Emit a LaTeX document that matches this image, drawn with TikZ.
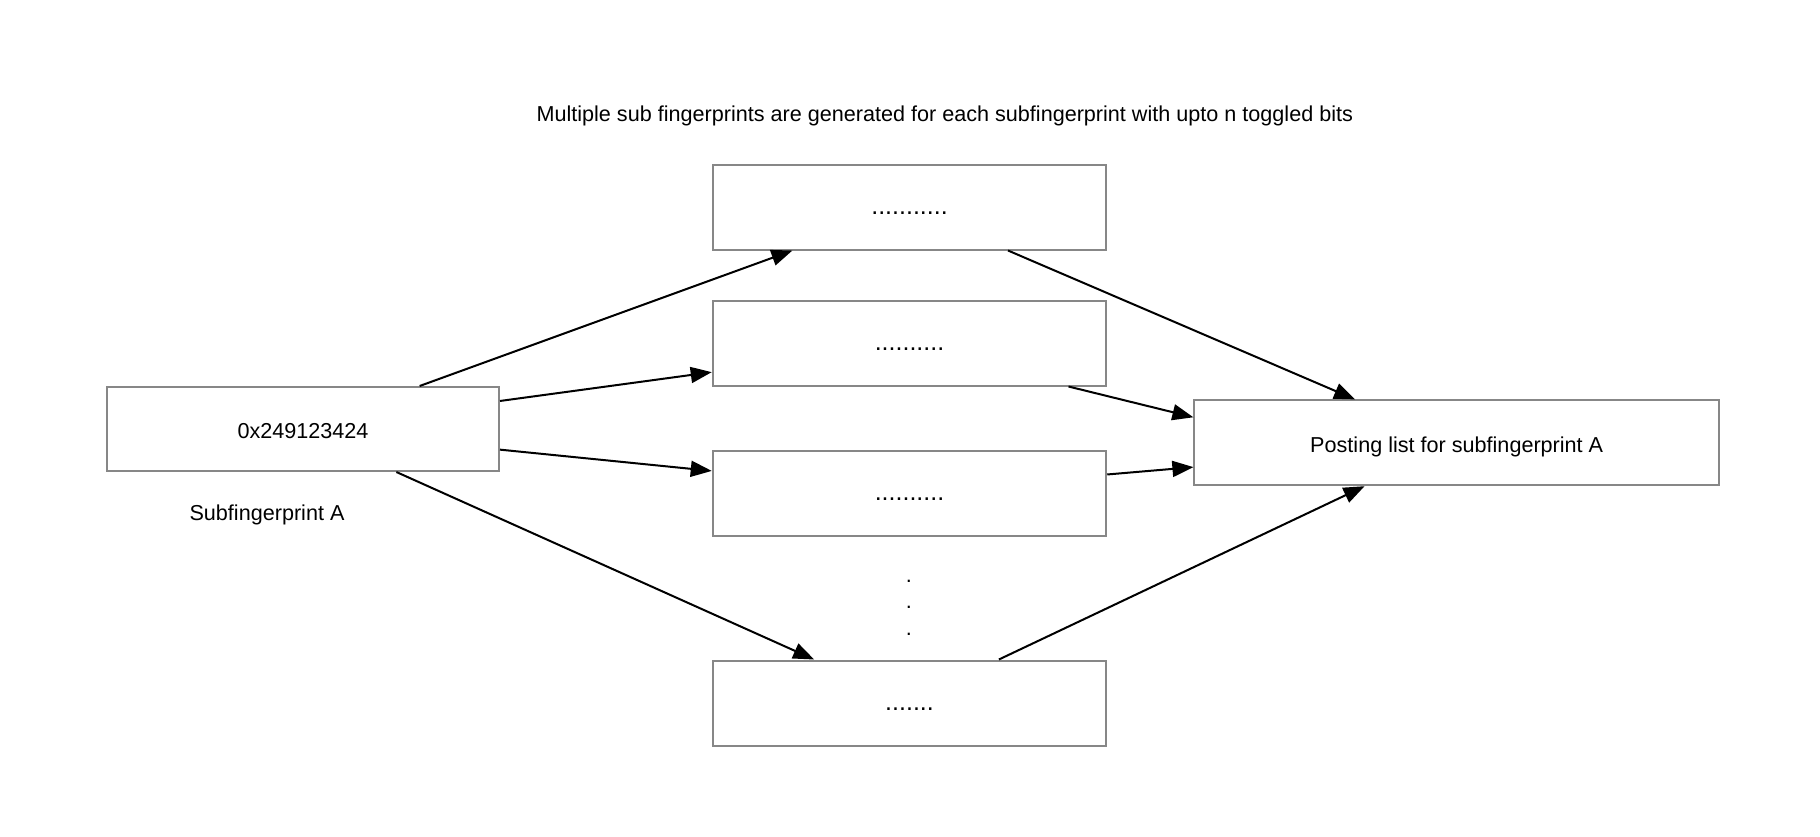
\documentclass[tikz,border=0pt]{standalone}
\usepackage{fontspec}
\setmainfont{Liberation Sans}
\usetikzlibrary{calc,arrows.meta}
\begin{document}
\begin{tikzpicture}[x=0.5pt,y=-0.5pt,
  box/.style={draw=black!47,line width=1pt,fill=white,inner sep=0pt,
    font=\fontsize{10.8}{12}\selectfont,text height=9.2pt,text depth=0pt},
  dotbox/.style={box,font=\fontsize{12.5}{14}\selectfont,text height=7.6pt},
  lbl/.style={inner sep=0pt,font=\fontsize{10.8}{12}\selectfont,text height=7.7pt,text depth=0pt},
  vdot/.style={inner sep=0pt,font=\fontsize{10.8}{12}\selectfont,text height=1.5pt,text depth=0pt},
  conn/.style={line width=1pt,-{Triangle[length=10.5pt,width=8pt]}}]
\useasboundingbox (0,0) rectangle (1820,836);
\node[box,minimum width=392pt*0.5,minimum height=84pt*0.5] (src) at (303,429) {0x249123424};
\node[dotbox,minimum width=393.5pt*0.5,minimum height=85pt*0.5] (b1) at (909.5,207) {...........};
\node[dotbox,minimum width=393.5pt*0.5,minimum height=85pt*0.5] (b2) at (909.5,343) {..........};
\node[dotbox,minimum width=393.5pt*0.5,minimum height=85pt*0.5] (b3) at (909.5,493) {..........};
\node[dotbox,minimum width=393.5pt*0.5,minimum height=85pt*0.5] (b4) at (909.5,703) {.......};
\node[box,minimum width=524.6pt*0.5,minimum height=84.8pt*0.5] (post) at (1456.7,442.8) {Posting list for subfingerprint A};
\node[lbl] (title) at (944.8,114) {Multiple sub fingerprints are generated for each subfingerprint with upto n toggled bits};
\node[lbl] (sublbl) at (267,513) {Subfingerprint A};
\node[vdot] (d1) at (908.8,580.5) {.};
\node[vdot] (d2) at (908.8,607.1) {.};
\node[vdot] (d3) at (908.8,633.8) {.};
\draw[conn] ($(src.north west)!0.796!(src.north east)$) -- ($(b1.south west)!0.204!(b1.south east)$);
\draw[conn] ($(src.north east)!0.174!(src.south east)$) -- ($(b2.north west)!0.835!(b2.south west)$);
\draw[conn] ($(src.north east)!0.74!(src.south east)$) -- ($(b3.north west)!0.246!(b3.south west)$);
\draw[conn] ($(src.south west)!0.737!(src.south east)$) -- ($(b4.north west)!0.259!(b4.north east)$);
\draw[conn] ($(b1.south west)!0.749!(b1.south east)$) -- ($(post.north west)!0.307!(post.north east)$);
\draw[conn] ($(b2.south west)!0.902!(b2.south east)$) -- ($(post.north west)!0.206!(post.south west)$);
\draw[conn] ($(b3.north east)!0.287!(b3.south east)$) -- ($(post.north west)!0.78!(post.south west)$);
\draw[conn] ($(b4.north west)!0.726!(b4.north east)$) -- ($(post.south west)!0.325!(post.south east)$);
\end{tikzpicture}
\end{document}
